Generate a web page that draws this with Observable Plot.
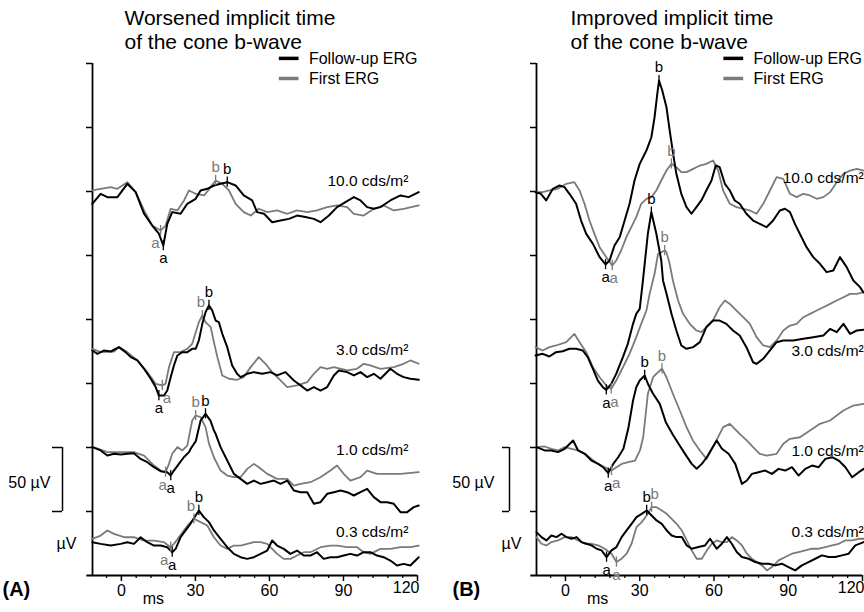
<!DOCTYPE html>
<html><head><meta charset="utf-8">
<script src="https://cdn.jsdelivr.net/npm/d3@7"></script>
<script src="https://cdn.jsdelivr.net/npm/@observablehq/plot@0.6"></script>
<style>
html,body{margin:0;padding:0;background:#fff;overflow:hidden;}
#wrap{display:flex;width:864px;height:612px;}
#wrap > div{width:432px;height:612px;flex:none;}
svg{display:block;}
</style></head><body><div id="wrap"><div id="pa"></div><div id="pb"></div></div>
<script>
// ---------- categories / ticks ----------
const levels = ["10.0", "3.0", "1.0", "0.3"];
const series = ["Follow-up ERG", "First ERG"];
const xTicks = [0, 30, 60, 90, 120];
const xMinorTicks = [-6, 6, 12, 18, 24, 36, 42, 48, 54, 66, 72, 78, 84, 96, 102, 108, 114];
const yTicks = [50, 100, 150, 200, 250, 300, 350, 400];
// vertical stacking offsets of each intensity (µV)
const offsetsA = [300, 175.8, 100, 28.9];
const offsetsB = [300, 174.2, 100, 31.3];

// ---------- Panel A traces: [ms, µV] ----------
const A10_follow = [[-11.8,-9.6],[-8.4,-1.8],[-5.7,-4.4],[-1.6,-4.4],[2.4,6],[5.8,-0.5],[9.2,-17.4],[12.5,-26.6],[15.2,-33],[17.0,-42.2],[18.6,-25.3],[20.6,-16.1],[24,-17.4],[26.7,-9.6],[30.1,-5.7],[32.1,0.8],[34.8,2.1],[37.5,4.7],[40.2,6],[42.9,7.3],[46.3,4.7],[49.6,-3.1],[53,-7],[55,-16.1],[57.8,-17.4],[61.1,-24],[64.5,-22.7],[67.9,-21.4],[71.2,-18.8],[74.6,-20],[78,-21.4],[80.7,-24],[84.1,-18.8],[87.4,-12.2],[90.8,-8.3],[94.2,-4.4],[96.9,-7],[99.6,-12.2],[102.3,-13.5],[105,-12.2],[109,-7],[113.1,-3.1],[116.4,-4.4],[120.5,-0.5]];
const A10_first = [[-11.8,0.8],[-8.4,2.1],[-4.3,3.4],[-1.6,2.1],[2.4,7.3],[5.8,-0.5],[9.2,-14.8],[12.5,-26.6],[15.9,-30.5],[17.9,-26.6],[20,-13.5],[22.7,-14.8],[25.4,-7],[27.4,0.8],[30.1,-1.8],[33.5,-3.1],[36.2,3.4],[38.2,8.6],[40.9,6],[43.6,0.8],[46.3,-9.6],[49.6,-16.1],[52.4,-18.8],[55.7,-13.5],[59.1,-16.1],[63.1,-14.8],[67.2,-17.4],[71.2,-14.8],[75.3,-16.1],[79.3,-14.8],[83.4,-12.2],[87.4,-10.9],[91.5,-12.2],[94.2,-17.4],[98.2,-18.8],[102.3,-13.5],[106.3,-10.9],[110.4,-14.8],[114.4,-13.5],[120.5,-10.9]];
const A3_follow = [[-11.8,0],[-9.7,-2.6],[-7,0],[-4.3,-0.8],[-1,2.6],[1.7,-1.3],[3.8,-5.2],[6.5,-7.8],[9.2,-14.3],[11.9,-22.1],[13.9,-28.6],[15.2,-35.2],[17.3,-35.2],[18.6,-31.3],[20,-20.8],[21.3,-11.7],[22.7,-3.9],[24.7,-1.3],[26.7,-1.3],[28.7,1.3],[30.1,1.3],[31.4,7.8],[32.8,20.8],[34.1,29.9],[35.5,35.2],[36.8,31.3],[38.2,23.4],[39.5,22.1],[40.9,13],[42.9,2.6],[44.9,-11.7],[46.9,-18.2],[48.3,-20.8],[51,-18.2],[53.7,-16.9],[57.1,-18.2],[60.4,-16.9],[63.1,-19.5],[66.5,-16.9],[69.9,-23.4],[72.6,-27.3],[75.3,-31.3],[78,-28.6],[80.7,-31.3],[83.4,-28.6],[86.1,-19.5],[88.1,-15.6],[91.5,-16.9],[94.2,-19.5],[96.9,-16.9],[99.6,-20.8],[102.3,-18.2],[105,-22.1],[109,-14.3],[111.7,-18.2],[114.4,-20.8],[117.1,-22.1],[120.5,-22.9]];
const A3_first = [[-11.8,1.3],[-8.4,-1.3],[-3,-0.8],[-1,2.6],[2.4,-1.3],[6.5,-7.8],[10.5,-16.9],[13.9,-26],[16.6,-27.3],[17.9,-26],[19.3,-13],[21.3,-1.3],[24,-1.3],[26.7,1.3],[28.7,5.2],[31.4,22.1],[32.8,27.3],[34.1,22.1],[36.2,18.2],[37.5,6.5],[38.9,-5.2],[40.9,-19.5],[43.6,-22.1],[46.9,-22.9],[49.6,-20.8],[52.4,-13],[55.7,-5.2],[58.4,-10.4],[61.1,-16.9],[64.5,-23.4],[67.2,-28.6],[71.2,-27.3],[75.3,-24.7],[78,-18.2],[80.7,-13],[83.4,-14.3],[86.1,-13],[91.5,-15.6],[95.5,-14.3],[98.2,-10.4],[100.9,-11.7],[105,-14.3],[110.4,-13],[114.4,-10.4],[117.1,-7.8],[120.5,-10.4]];
const A1_follow = [[-11.8,0.3],[-8.4,-2.3],[-5.7,-6.3],[-3,-4.9],[-0.3,-5.5],[2.4,-4.9],[5.1,-4.4],[7.8,-8.9],[10.5,-11.5],[13.2,-15.4],[15.9,-18.5],[18.6,-19.3],[20,-21.9],[21.3,-18],[23.3,-12.8],[25.3,-7.6],[27.4,-3.6],[28.1,-1],[30.2,5.2],[32.1,21],[34.1,26.3],[36.1,21],[37.5,13.3],[38.2,10.7],[40.2,0.3],[42.9,-10.2],[45.6,-20.6],[48.3,-24.5],[51,-28.4],[53.7,-25.8],[56.4,-28.4],[59.1,-27.1],[61.8,-25.8],[64.5,-28.4],[67.2,-25.8],[69.9,-33.6],[72.6,-34.9],[75.3,-34.9],[78,-44],[80.7,-42.7],[83.4,-36.2],[86.1,-34.9],[88.8,-33.6],[91.5,-34.9],[94.2,-37.5],[96.9,-34.9],[99.6,-32.3],[102.3,-38.8],[105,-42.7],[107.7,-42.7],[110.4,-44],[113.1,-50.5],[115.8,-50.5],[118.5,-46.6],[120.5,-45.3]];
const A1_first = [[-11.8,0.8],[-5.7,-3.6],[-0.3,-3.6],[5.1,-3.6],[9.2,-6.3],[13.2,-14.1],[15.9,-18],[17.9,-19.3],[19.3,-12.8],[20.6,-4.9],[22.7,0.3],[24.7,-2.3],[26.7,1.5],[28.7,21.1],[30.1,25],[32.1,23.7],[34.1,15.9],[35.5,3],[37.5,-7.6],[40.2,-18],[42.9,-21.9],[45.6,-23.2],[48.3,-23.2],[51,-16.7],[53.7,-12.8],[55.7,-15.4],[59.1,-20.6],[63.1,-24.5],[67.2,-24.5],[69.9,-29.7],[72.6,-28.4],[76.6,-27.1],[80.7,-23.2],[84.7,-18],[87.4,-14.1],[90.1,-20.6],[92.8,-25.8],[96.9,-23.2],[99.6,-18],[103.6,-20.6],[107.7,-20.6],[113.1,-20.6],[120.5,-19.3]];
const A03_follow = [[-11.8,-2.9],[-8.4,-4.2],[-4.3,-5.5],[-0.3,-4.2],[2.4,-2.9],[5.1,-4.2],[7.8,1],[10.5,-2.9],[13.2,-5.5],[15.9,-5.5],[18.6,-6.8],[20.6,-10.7],[22,-8.1],[24,1],[26,6.3],[28,11.5],[30.1,18],[31.4,21.9],[33.4,16.7],[35.5,12.8],[37.5,6.3],[40.2,-0.3],[42.9,-6.8],[45.6,-12],[48.3,-14.6],[51,-15.9],[53.7,-14.6],[56.4,-12],[59.1,-9.4],[61.1,-1.6],[63.1,-5.5],[65.8,-8.1],[68.5,-12],[71.2,-9.4],[73.9,-13.3],[76.6,-13.3],[79.3,-10.7],[82,-15.9],[84.7,-14.6],[87.4,-14.6],[90.1,-13.3],[92.8,-12],[95.5,-13.3],[98.2,-10.7],[100.9,-10.7],[103.6,-13.3],[106.3,-14.6],[109,-17.2],[111.7,-21.1],[114.4,-19.8],[117.1,-21.1],[120.5,-14.6]];
const A03_first = [[-11.8,-0.3],[-8.4,2.3],[-5.7,6.3],[-3,3.6],[1.1,1],[5.1,1],[9.2,-1.6],[13.2,-1.6],[17.3,-2.9],[20,-6.8],[21.3,-4.2],[23.3,1],[25.3,6.3],[27.4,11.5],[29.4,15.4],[32.1,12.8],[34.8,10.2],[37.5,1],[40.2,-5.5],[42.9,-8.1],[45.6,-5.5],[48.3,-5.5],[51,-4.2],[53.7,-2.9],[56.4,-2.9],[59.1,-4.2],[63.1,-12],[65.8,-15.9],[68.5,-15.9],[71.2,-13.3],[73.9,-10.7],[76.6,-10.7],[80.7,-6.8],[84.7,-5.5],[87.4,-5.5],[91.5,-6.8],[95.5,-6.8],[98.2,-10.7],[100.9,-12],[105,-8.1],[109,-8.1],[113.1,-6.8],[117.1,-6.8],[120.5,-5.5]];

// ---------- Panel B traces: [ms, µV] ----------
const B10_follow = [[-12.1,-0.5],[-9.9,-1.8],[-7.8,-7],[-5.1,2.1],[-2.4,4.7],[-0.4,3.4],[1.6,-1.8],[4.3,-9.6],[6.3,-22.7],[8.4,-33.1],[11.1,-40.9],[13.8,-51.3],[16.2,-57],[17.8,-53.9],[19.8,-42.2],[21.9,-35.7],[23.9,-22.7],[25.9,-9.6],[27.9,8.6],[30,21.6],[32.7,32],[34.7,42.4],[36,58.1],[37.1,76.3],[37.8,86.7],[39.1,78.9],[40.8,65.9],[42.1,47.7],[43.5,29.4],[44.8,13.8],[46.8,-1.8],[48.9,-12.2],[50.9,-17.4],[52.9,-12.2],[54.9,-7],[56.9,0.8],[59,8.6],[60.7,20.3],[62.3,19],[64.4,6],[66.4,0.8],[68.4,-7],[70.4,-9.6],[73.1,-17.4],[75.8,-22.7],[78.5,-25.3],[81.2,-27.9],[83.9,-22.7],[86.6,-14.8],[88.7,-13.5],[90.7,-16.1],[92.7,-25.3],[94.7,-33.1],[97.4,-43.5],[100.1,-51.3],[102.8,-56.5],[105.5,-63],[108.2,-61.7],[110.9,-51.3],[113.6,-59.1],[116.3,-69.5],[119,-74.7],[120.4,-78.9]];
const B10_first = [[-12.1,-0.5],[-9.2,-0.5],[-6.5,0.8],[-3.1,2.1],[0.3,6],[3.6,7.3],[5.7,0.8],[7.7,-9.6],[9.7,-22.7],[11.7,-33.1],[13.8,-43.5],[16.5,-51.3],[18.9,-57.8],[20.5,-53.9],[22.5,-46.1],[24.6,-35.7],[26.6,-27.9],[28.6,-20],[30.6,-9.6],[32.7,-5.7],[34.7,-4.4],[36.7,0.8],[38.7,8.6],[40.8,16.4],[42.8,21.6],[44.8,19],[46.8,15.1],[48.9,15.1],[51.6,17.7],[54.3,20.3],[56.9,21.6],[59.6,24.2],[61.7,16.4],[63.7,0.8],[66.4,-9.6],[69.1,-12.2],[71.8,-13.5],[74.5,-14.8],[77.2,-17.4],[79.9,-9.6],[82.6,0.8],[85.3,11.2],[88,9.9],[90.7,-1.8],[93.4,-4.4],[96.1,-1.8],[98.8,-3.1],[101.5,-5.7],[104.2,-4.4],[106.9,-0.5],[109.6,7.3],[112.3,13.8],[115,16.4],[117.7,17.7],[120.4,16.4]];
const B3_follow = [[-12.1,-2.3],[-9.2,-1],[-6.5,-3.1],[-3.8,0.3],[-1.1,1],[1.6,2.9],[4.3,2.9],[7,1.6],[9,-3.6],[11.1,-12.8],[13.1,-21.9],[15.1,-27.1],[16.5,-29.2],[18.5,-24.5],[20.5,-16.7],[23.2,-3.6],[25.2,6.8],[27.3,22.4],[28.6,30.2],[30,34.1],[31.3,56.3],[33.3,93],[34.7,109.6],[36.7,93],[38.7,71.9],[39.4,56.3],[40.8,46.1],[42.8,30.5],[44.8,17.2],[46.8,5.5],[48.9,2.9],[51.6,4.2],[54.3,8.1],[56.9,19.8],[59.6,25],[62.3,25],[65,22.4],[67.7,17.2],[70.4,13.3],[73.1,4.2],[75.8,-7.6],[77.2,-8.9],[79.9,-4.9],[82.6,1.6],[85.3,8.1],[88,9.4],[92,9.4],[96.1,10.7],[100.1,12],[104.2,13.3],[106.9,18.5],[109.6,15.9],[112.3,22.4],[115,14.6],[117.7,17.2],[120.4,17.7]];
const B3_first = [[-12.1,4.2],[-9.2,1.6],[-6.5,4.2],[-3.8,5.5],[0.3,8.1],[3.6,14.6],[5.7,8.1],[8.4,0.3],[11.1,-11.5],[13.8,-19.3],[16.5,-25.8],[18.5,-28.4],[20.5,-21.9],[23.2,-11.5],[25.9,-1],[28.6,12],[30.6,22.4],[32.7,32.8],[34,45.8],[36,61.5],[37.4,77.1],[40.1,79.7],[40.8,78.4],[42.1,69.3],[43.4,56.3],[45.5,40.6],[47.5,30.2],[50.2,22.4],[52.9,17.2],[54.9,15.9],[56.9,19.8],[59.6,25],[62.3,35.4],[64.4,40.6],[66.4,38],[69.1,32.8],[71.8,27.6],[74.5,22.4],[77.2,12],[79.9,5.5],[82.6,4.2],[85.3,9.4],[88,17.2],[90.7,21.1],[93.4,22.4],[96.1,27.6],[98.8,30.2],[101.5,32.8],[104.2,35.4],[106.9,38],[109.6,40.6],[112.3,43.2],[115,45.8],[117.7,45.8],[120.4,47.1]];
const B1_follow = [[-11.7,0.3],[-8.4,-2.3],[-5.7,-2.3],[-3,-3.6],[-0.3,-1],[3.1,5.5],[5.1,-2.3],[7.8,-4.9],[10.5,-10.2],[13.2,-12.8],[15.2,-15.4],[17.3,-20],[19.3,-12.8],[21.3,-7.6],[23.4,-1],[25.4,15],[27.3,36.7],[28.6,47.1],[30,52.3],[32,56.3],[33.3,49.8],[35.4,42],[38.1,34.1],[40.5,20],[43.4,10],[46,2],[48.3,-5],[51,-12.8],[53,-16.6],[55.1,-12.8],[57.1,-7.6],[59.1,-1],[61.1,5.5],[63.2,-1],[65.9,-4.9],[68.6,-12.8],[71.3,-28.4],[73.3,-25.8],[75.3,-20.6],[78,-19.3],[80.7,-18],[83.4,-20.6],[86.1,-16.7],[88.8,-18],[91.5,-15.4],[94.2,-21.9],[96.9,-16.7],[99.6,-14.1],[102.3,-15.4],[105,-8.9],[107.7,-7.6],[110.4,-10.2],[113.1,-15.4],[115.8,-23.2],[118.5,-19.3],[120.5,-16.7]];
const B1_first = [[-11.7,0.3],[-8.4,0.8],[-5.7,-1],[-3,-2.3],[-0.3,0.3],[2.4,-1],[5.1,-2.3],[7.8,-4.9],[10.5,-8.9],[13.2,-12.8],[15.9,-15.4],[18.6,-18],[20.6,-15.4],[22.7,-12.8],[25.4,-11.5],[28.1,-10.2],[30.1,-2.3],[31.4,8],[33.3,42],[35.4,54.9],[37.4,58.8],[39,61.5],[40.8,54.9],[43.4,42],[46.2,28.9],[48.9,15.9],[51.5,5.5],[54.3,-2.3],[57,-8.9],[61,5.5],[63.7,15.9],[66.4,18.5],[70.4,10.7],[73.2,5.5],[75.8,0.3],[78.5,-4.9],[81.3,-6.3],[85.3,-4.9],[88,2.9],[90.7,6.8],[94.7,8],[98.8,13.3],[102.8,18.5],[106.9,21.1],[109.6,25],[112.3,28.9],[116.3,32.8],[120.4,34.1]];
const B03_follow = [[-11.7,2.6],[-9.7,-1.3],[-7.7,-3.9],[-5.7,0],[-3.6,-1.3],[-1.6,1.3],[0.4,-1.3],[2.4,-2.6],[4.5,-1.3],[6.5,-5.2],[8.5,-6.5],[10.5,-7.8],[12.6,-10.4],[14.6,-11.7],[16.6,-16.9],[18.6,-11.7],[20.6,-9.1],[22.7,-1.3],[24.7,3.9],[26.7,9.1],[28.7,14.3],[30.8,16.9],[32.8,19.5],[34.8,15.6],[36.8,11.7],[38.9,9.1],[40.9,3.9],[42.9,0],[44.9,-1.3],[47,-1.3],[49,-7.8],[51,-10.4],[53.7,-9.1],[56.4,-7.8],[58.4,-2.6],[61.1,-10.4],[63.2,-6.5],[65.2,-1.3],[67.2,-6.5],[69.2,-13],[71.3,-16.9],[74,-18.2],[76.7,-20.8],[79.4,-22.1],[82.1,-22.1],[84.8,-23.4],[87.4,-22.1],[90.1,-24.7],[92.8,-27.3],[95.5,-23.4],[98.2,-20.8],[100.9,-18.2],[103.6,-15.6],[106.3,-16.9],[109,-16.9],[111.7,-15.6],[114.4,-14.3],[117.1,-7.8],[120.5,-5.2]];
const B03_first = [[-11.7,-1.3],[-9.7,-6.5],[-7.7,-7.8],[-5.7,-5.2],[-3,-3.9],[-0.3,-1.3],[2.4,-1.3],[5.1,-3.9],[7.8,-6.5],[10.5,-6.5],[13.2,-7.8],[15.9,-10.4],[18.6,-14.3],[20.6,-20.8],[22.7,-18.2],[24.7,-14.3],[26.7,-6.5],[28.7,6.5],[30.8,10.4],[32.8,15.6],[34.8,22.1],[36.8,22.1],[38.9,19.5],[40.9,16.9],[42.9,13],[44.9,9.1],[47,3.9],[49,-3.9],[51,-11.7],[53,-18.2],[55.1,-18.2],[57.1,-11.7],[59.1,-6.5],[61.1,-3.9],[63.2,-5.2],[65.2,-5.2],[67.2,-1.3],[69.2,-3.9],[71.3,-7.8],[73.3,-14.3],[75.3,-18.2],[77.3,-20.8],[79.4,-23.4],[81.4,-27.3],[83.4,-24.7],[86.1,-19.5],[88.8,-16.9],[91.5,-14.3],[94.2,-13],[96.9,-11.7],[99.6,-10.4],[102.3,-10.4],[105,-9.1],[107.7,-7.8],[110.4,-6.5],[113.1,-3.9],[115.8,-3.9],[118.5,-2.6],[120.5,-2.6]];

// ---------- a/b wave markers: [level, seriesIndex, wave, ms, µV] ----------
const markersA = [
  ["10.0",0,"a",17.0,-42.2],["10.0",0,"b",42.9,7.3],["10.0",1,"a",15.9,-30.5],["10.0",1,"b",38.2,8.6],
  ["3.0",0,"a",15.2,-35.2],["3.0",0,"b",35.5,35.2],["3.0",1,"a",16.6,-27.3],["3.0",1,"b",32.8,27.3],
  ["1.0",0,"a",20.0,-21.9],["1.0",0,"b",34.1,26.3],["1.0",1,"a",17.9,-19.3],["1.0",1,"b",30.1,25],
  ["0.3",0,"a",20.6,-10.7],["0.3",0,"b",31.4,21.9],["0.3",1,"a",20.0,-6.8],["0.3",1,"b",29.4,15.4]
];
const markersB = [
  ["10.0",0,"a",16.2,-57],["10.0",0,"b",37.8,86.7],["10.0",1,"a",18.9,-57.8],["10.0",1,"b",42.8,21.6],
  ["3.0",0,"a",16.5,-29.2],["3.0",0,"b",34.7,109.6],["3.0",1,"a",18.5,-28.4],["3.0",1,"b",40.1,79.7],
  ["1.0",0,"a",17.3,-20],["1.0",0,"b",32.0,56.3],["1.0",1,"a",18.6,-18],["1.0",1,"b",39.0,61.5],
  ["0.3",0,"a",16.6,-16.9],["0.3",0,"b",32.8,19.5],["0.3",1,"a",20.6,-20.8],["0.3",1,"b",34.8,22.1]
];

const FONT = "'Liberation Sans', Arial, Helvetica, sans-serif";
const X0 = -11.7, X1 = 120;
const colors = ["#000000", "#7a7a7a"];

function makePanel(cfg) {
  const W = 432, H = 612;
  const frameW = W - cfg.marginLeft - cfg.marginRight;
  const msPerPx = (X1 - X0) / frameW;
  const rows = [];
  cfg.traces.forEach((pair, li) => pair.forEach((tr, si) => tr.forEach(([t, v]) =>
    rows.push({level: levels[li], series: series[si], t, y: v + cfg.offsets[li]}))));
  const mk = cfg.markers.map(([lev, si, wave, t, v]) => {
    const li = levels.indexOf(lev);
    return {level: lev, si, series: series[si], wave, t, y: v + cfg.offsets[li], lx: t};
  });
  // keep paired a/b labels from overlapping: nudge the first-ERG label sideways
  mk.forEach(m => {
    if (m.si !== 1) return;
    const o = mk.find(n => n.si === 0 && n.level === m.level && n.wave === m.wave);
    const d = (m.t - o.t) / msPerPx;
    const minSep = 8;
    if (Math.abs(d) < minSep) {
      const dir = d > 0 ? 1 : -1;
      m.lx = o.t + dir * minSep * msPerPx;
    }
  });
  const levelRows = levels.map((l, i) => ({text: l + " cds/m²", y: cfg.labelY[i]}));
  const px = p => X0 + p * msPerPx;  // horizontal pixel offset from frame left -> ms
  const lastTick = xTicks[xTicks.length - 1];

  return Plot.plot({
    width: W, height: H,
    marginLeft: cfg.marginLeft, marginRight: cfg.marginRight, marginTop: 63, marginBottom: 37,
    style: {fontFamily: FONT, fontSize: "15px", background: "white", color: "black", overflow: "visible"},
    x: {domain: [X0, X1]},
    y: {domain: [0, 400]},
    color: {domain: series, range: colors},
    marks: [
      // axes
      Plot.ruleY([0], {x1: -14, x2: 120, stroke: "black", strokeWidth: 1.8}),
      Plot.ruleX([X0], {y1: 0, y2: 400, stroke: "black", strokeWidth: 1.8}),
      Plot.axisX({ticks: xTicks.slice(0, -1), tickSize: 6, tickPadding: 3, fontSize: 16, label: null, strokeWidth: 1.5}),
      Plot.axisX({ticks: [lastTick], tickSize: 6, tickFormat: () => "", label: null, strokeWidth: 1.5}),
      Plot.text([lastTick], {x: d => d, frameAnchor: "bottom", dy: 17, dx: 2, textAnchor: "end", fontSize: 16}),
      Plot.axisX({ticks: xMinorTicks, tickSize: 3, tickFormat: () => "", label: null, strokeWidth: 1.3}),
      Plot.axisY({ticks: yTicks, tickSize: 6, tickFormat: () => "", label: null, strokeWidth: 1.5}),
      Plot.text(["ms"], {x: 13, frameAnchor: "bottom", dy: 28, fontSize: 16}),
      Plot.text(["µV"], {x: X0, y: 25, dx: cfg.uvDx, fontSize: 16}),
      // 50 µV scale bar
      Plot.ruleX([50], {x: px(cfg.barDx), y1: 50, y2: 100, stroke: "black", strokeWidth: 1.5}),
      Plot.ruleY([50, 100], {x1: px(cfg.barDx - cfg.barW), x2: px(cfg.barDx), stroke: "black", strokeWidth: 1.5}),
      Plot.text(["50 µV"], {x: X0, y: 75, dx: -42, dy: 3, textAnchor: "end", fontSize: 16}),
      // traces
      Plot.line(rows.filter(d => d.series === series[1]), {x: "t", y: "y", z: "level", stroke: "series", strokeWidth: 1.8, strokeLinejoin: "round"}),
      Plot.line(rows.filter(d => d.series === series[0]), {x: "t", y: "y", z: "level", stroke: "series", strokeWidth: 2, strokeLinejoin: "round"}),
      // a/b markers
      Plot.ruleX(mk, {x: "t", y1: d => d.y - 4, y2: d => d.y + 4, stroke: "series", strokeWidth: 1.3}),
      Plot.text(mk.filter(d => d.wave === "a"), {x: "lx", y: "y", text: "wave", fill: "series", dy: 13, fontSize: 15}),
      Plot.text(mk.filter(d => d.wave === "b"), {x: "lx", y: "y", text: "wave", fill: "series", dy: -13, fontSize: 15}),
      // intensity labels
      Plot.text(levelRows, {x: cfg.labelX, y: "y", text: "text", textAnchor: "end", fontSize: 15.5}),
      // legend
      Plot.ruleY(series, {y: (d, i) => [404, 388.3][i], x1: 64, x2: 72, stroke: d => d, strokeWidth: 3.5}),
      Plot.text(series, {y: (d, i) => [404, 388.3][i], x: 76, text: d => d, textAnchor: "start", fontSize: 16}),
      // title and panel tag
      Plot.text([cfg.title], {frameAnchor: "top-left", dx: cfg.titleDx, dy: -55, textAnchor: "start", lineAnchor: "top", fontSize: 21, lineHeight: 1.12}),
      Plot.text([cfg.tag], {frameAnchor: "bottom-left", dx: cfg.tagDx, dy: 20, textAnchor: "start", fontSize: 20, fontWeight: "bold"})
    ]
  });
}

document.getElementById("pa").append(makePanel({
  marginLeft: 92, marginRight: 15,
  traces: [[A10_follow, A10_first], [A3_follow, A3_first], [A1_follow, A1_first], [A03_follow, A03_first]],
  offsets: offsetsA, labelY: [307.8, 175.8, 97.7, 33.6], labelX: 116.3,
  markers: markersA,
  title: "Worsened implicit time\nof the cone b-wave", titleDx: 32,
  tag: "(A)", tagDx: -90, uvDx: -26, barDx: -30, barW: 10
}));
document.getElementById("pb").append(makePanel({
  marginLeft: 104, marginRight: 2,
  traces: [[B10_follow, B10_first], [B3_follow, B3_first], [B1_follow, B1_first], [B03_follow, B03_first]],
  offsets: offsetsB, labelY: [310.9, 175, 96.9, 33.6], labelX: 120.5,
  markers: markersB,
  title: "Improved implicit time\nof the cone b-wave", titleDx: 34,
  tag: "(B)", tagDx: -84, uvDx: -25, barDx: -27, barW: 7
}));
</script></body></html>
